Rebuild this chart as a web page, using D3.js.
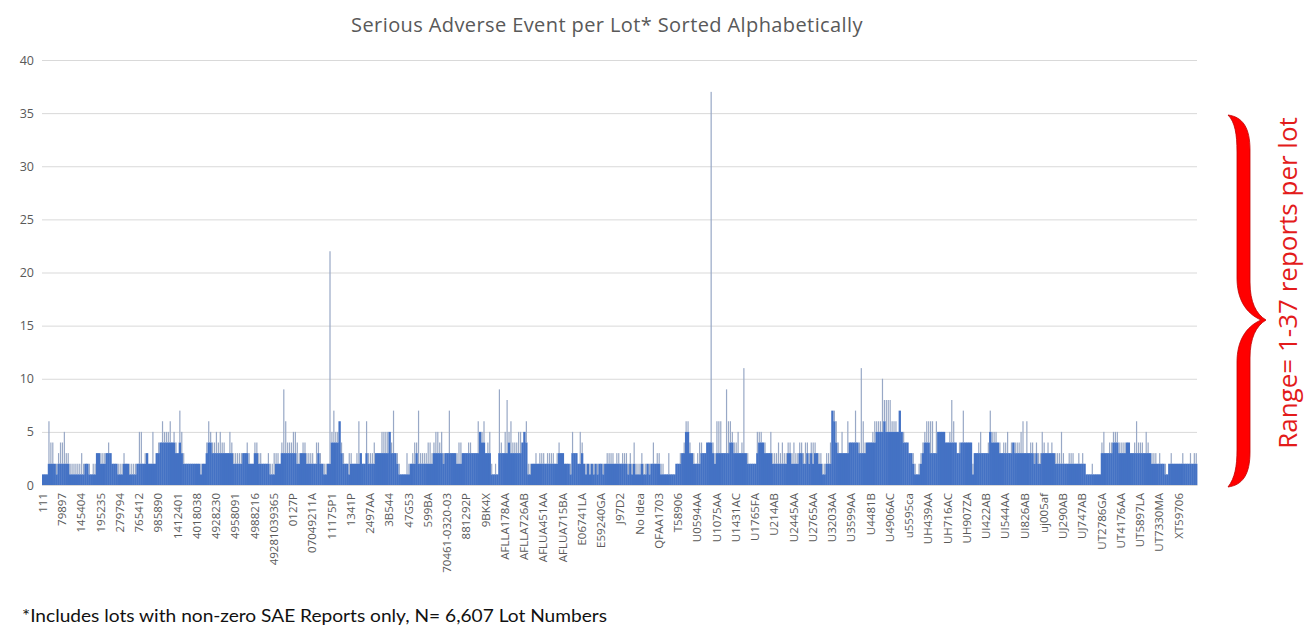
<!DOCTYPE html>
<html>
<head>
<meta charset="utf-8">
<script src="https://cdn.jsdelivr.net/npm/d3@7"></script>
<style>
  body { margin: 0; background: #fff; }
  svg { display: block; }
</style>
</head>
<body>
<div id="chart"></div>
<script>
// one label every 110 lots (6,607 lots in all)
const lotLabels = ["111","79897","145404","195235","279794","765412","985890","1412401","4018038","4928230",
  "4958091","4988216","49281039365","0127P","07049211A","11175P1","1341P","2497AA","3B544","47G53",
  "599BA","70461-0320-03","881292P","9BK4X","AFLLA178AA","AFLLA726AB","AFLUA451AA","AFLUA715BA","E06741LA","E59240GA",
  "J97D2","No Idea","QFAA1703","T58906","U0594AA","U1075AA","U1431AC","U1765FA","U214AB","U2445AA",
  "U2765AA","U3203AA","U3599AA","U4481B","U4906AC","u5595ca","UH439AA","UH716AC","UH907ZA","UI422AB",
  "UI544AA","UI826AB","uj005af","UJ290AB","UJ747AB","UT2786GA","UT4176AA","UT5897LA","UT7330MA","XT59706"];

const yTicks = [0, 5, 10, 15, 20, 25, 30, 35, 40];

// reports per lot in groups of ~11 lots (10 groups per labelled step):
// typical level of the group
const baseLevels = [
  [1,1,1,2,2,2,2,1,2,2],[2,2,2,2,1,1,1,1,1,1],[1,1,2,2,1,1,1,1,3,3],[2,2,2,3,3,3,2,2,2,1],[1,1,2,2,2,1,1,1,1,2],
  [2,2,2,2,3,2,2,2,2,3],[3,4,4,4,4,4,4,4,4,3],[3,4,3,2,2,2,2,2,2,2],[2,2,1,2,2,3,4,4,3,3],[3,3,3,3,3,3,3,3,3,2],
  [2,2,2,2,3,3,3,2,2,2],[3,3,2,2,2,2,2,2,1,1],[1,2,2,2,3,3,3,3,3,3],[3,3,2,2,3,3,3,2,2,2],[2,2,2,3,2,2,1,1,2,2],
  [4,4,4,4,6,3,2,2,2,1],[2,2,2,2,2,3,2,2,3,2],[2,2,2,3,3,3,3,3,3,3],[5,3,3,3,2,1,1,1,1,1],[1,2,2,2,3,2,2,2,2,2],
  [2,2,2,3,3,3,3,3,2,3],[3,3,3,3,3,2,2,2,3,3],[3,3,3,3,3,3,3,5,4,4],[3,3,3,1,1,1,1,3,3,3],[3,3,4,3,3,3,3,3,3,4],
  [5,4,1,1,2,2,2,2,2,2],[2,2,2,2,2,2,2,2,3,3],[3,2,2,2,1,3,3,3,2,2],[3,2,1,2,1,2,1,2,1,2],[2,1,2,2,2,2,2,2,2,2],
  [2,2,2,2,1,2,1,2,1,1],[1,2,1,1,2,1,2,2,2,2],[2,1,1,1,1,1,1,1,1,2],[2,2,3,3,5,5,3,3,2,2],[2,2,3,3,3,4,4,4,3,2],
  [3,3,3,3,3,3,3,4,4,3],[3,3,3,3,3,3,2,2,2,2],[2,3,4,4,4,3,3,3,3,2],[2,2,2,2,2,2,2,3,3,2],[2,2,2,3,3,2,2,3,2,3],
  [2,3,3,2,2,1,1,2,2,2],[7,6,4,3,3,3,3,3,3,4],[4,4,4,4,3,3,3,3,4,4],[4,4,4,5,5,5,5,6,5,5],[5,5,5,5,5,7,5,4,4,4],
  [3,3,2,1,1,1,2,3,4,4],[4,3,3,3,3,5,5,5,5,4],[4,4,4,4,4,3,3,4,4,4],[4,4,4,1,3,3,3,3,3,3],[3,3,5,4,4,4,4,3,3,3],
  [3,3,3,3,4,3,3,3,3,3],[3,3,3,3,3,2,3,2,2,3],[3,3,3,3,3,3,2,2,2,2],[2,2,2,2,2,2,2,2,2,2],[2,2,1,1,1,1,1,1,1,1],
  [3,3,3,3,3,3,4,4,4,3],[3,3,3,4,4,3,3,3,3,3],[3,3,3,3,3,3,2,2,2,2],[2,2,2,1,1,2,2,2,2,2],[2,2,2,2,2,2,2,2,2,2]
];
// highest lot in the group
const peakLevels = [
  [1,1,1,6,4,4,2,2,3,4],[4,5,3,3,2,2,2,2,2,2],[3,2,2,2,2,1,2,2,3,3],[3,3,3,3,4,3,2,2,2,2],[2,2,3,2,2,2,2,2,2,2],
  [5,5,2,3,3,2,2,5,2,3],[4,4,6,5,5,5,6,4,5,4],[3,7,5,3,2,2,2,2,2,2],[2,2,2,2,2,4,6,5,4,4],[5,4,5,4,4,3,3,5,4,3],
  [3,3,3,3,3,3,4,3,2,2],[4,4,3,3,2,2,2,3,2,2],[3,3,3,2,4,9,6,4,4,4],[5,5,4,3,3,4,4,3,3,3],[3,2,4,4,3,2,2,2,2,22],
  [5,7,5,5,6,4,3,2,2,3],[3,2,2,3,6,3,2,2,6,3],[3,3,4,3,3,3,5,5,5,5],[5,4,7,3,3,2,1,1,1,3],[2,2,3,4,4,7,3,3,3,3],
  [4,4,3,4,5,5,4,5,3,3],[3,7,3,3,3,3,4,4,3,3],[3,4,4,3,3,3,6,5,5,6],[3,4,5,2,1,2,1,9,4,3],[5,8,5,6,4,4,4,5,5,4],
  [5,6,2,2,2,2,3,2,3,3],[3,2,3,3,3,3,2,3,4,3],[3,2,2,2,2,5,3,3,2,5],[4,2,2,2,2,2,2,2,2,2],[2,2,2,3,3,3,3,2,3,3],
  [2,3,3,3,2,3,2,4,2,2],[2,3,2,2,2,2,2,4,2,3],[3,2,2,1,1,3,1,1,1,2],[2,3,3,4,6,6,4,3,3,2],[3,4,4,3,3,4,4,37,4,3],
  [6,6,6,3,3,9,6,6,5,4],[4,5,3,4,11,3,3,2,2,2],[2,5,5,5,4,4,3,3,5,3],[3,3,4,3,4,3,3,4,4,3],[4,3,3,4,4,3,4,4,3,4],
  [4,4,3,3,3,2,2,3,3,4],[7,7,6,4,3,5,3,3,6,4],[4,4,7,4,4,11,6,4,4,4],[4,5,6,6,6,6,10,8,8,8],[8,6,6,6,5,7,5,5,4,4],
  [3,3,3,2,1,2,3,4,5,6],[6,6,6,3,6,5,5,5,5,4],[4,5,8,6,4,3,4,4,7,4],[4,4,4,2,3,3,4,5,3,3],[3,4,7,5,5,5,4,4,3,4],
  [4,5,3,4,4,4,4,4,5,6],[3,6,3,4,4,3,4,3,3,5],[4,3,4,3,4,3,3,3,3,5],[3,2,2,3,3,3,2,2,3,2],[3,2,1,1,1,2,1,1,1,1],
  [4,5,3,3,4,4,5,5,5,4],[4,4,4,4,4,3,3,4,6,4],[4,4,3,5,4,3,3,3,3,2],[3,2,2,2,1,2,3,2,2,2],[2,2,3,2,2,2,3,2,3,3]
];

const width = 1307, height = 627;
const m = { left: 42, right: 1197, top: 60, bottom: 485 };

const cols = [];
baseLevels.forEach((grp, g) => grp.forEach((b, k) => {
  cols.push({ i: g * 10 + k, base: b, peak: peakLevels[g][k], label: k === 0 ? lotLabels[g] : null });
}));

const svg = d3.select("#chart").append("svg").attr("width", width).attr("height", height);

const x = d3.scaleBand().domain(cols.map(d => d.i)).range([m.left, m.right]).padding(0);
const y = d3.scaleLinear().domain([0, 40]).range([m.bottom, m.top]);

// gridlines + y labels
const yAxis = svg.append("g").attr("transform", `translate(${m.left},0)`)
  .call(d3.axisLeft(y).tickValues(yTicks).tickSize(-(m.right - m.left)).tickPadding(8));
yAxis.select(".domain").remove();
yAxis.selectAll(".tick line").attr("stroke", "#d9d9d9");
yAxis.selectAll(".tick text").attr("fill", "#595959").style("font", "12.5px 'Open Sans', sans-serif");

const bw = x.bandwidth();

// thin spikes: the odd lot above its neighbours
svg.append("g").selectAll("rect").data(cols.filter(d => d.peak > d.base)).join("rect")
  .attr("x", d => x(d.i) + bw * 0.3)
  .attr("width", 1.2)
  .attr("y", d => y(d.peak))
  .attr("height", d => y(d.base) - y(d.peak))
  .attr("fill", "#98a8c6");

// solid mass of bars
svg.append("g").selectAll("rect").data(cols).join("rect")
  .attr("x", d => x(d.i))
  .attr("width", bw + 0.4)
  .attr("y", d => y(d.base))
  .attr("height", d => y(0) - y(d.base))
  .attr("fill", "#4472c4");

// category labels
const xAxis = svg.append("g").attr("transform", `translate(0,${m.bottom})`)
  .call(d3.axisBottom(x).tickValues(cols.filter(d => d.label).map(d => d.i))
    .tickFormat(i => cols[i].label).tickSize(0).tickPadding(0));
xAxis.select(".domain").attr("stroke", "#d9d9d9");
xAxis.selectAll(".tick text")
  .attr("fill", "#595959")
  .style("font", "11.5px 'Open Sans', sans-serif")
  .attr("text-anchor", "end")
  .attr("dy", "0.35em")
  .attr("transform", "translate(0,8) rotate(-90)");

// title
svg.append("text")
  .attr("x", 607).attr("y", 32)
  .attr("text-anchor", "middle")
  .attr("fill", "#595959")
  .style("font", "20px 'Open Sans', sans-serif")
  .style("letter-spacing", "0.4px")
  .text("Serious Adverse Event per Lot* Sorted Alphabetically");

// footnote
svg.append("text")
  .attr("x", 22).attr("y", 622)
  .attr("fill", "#111")
  .attr("textLength", 585)
  .attr("lengthAdjust", "spacingAndGlyphs")
  .style("font", "18px Lato, sans-serif")
  .text("*Includes lots with non-zero SAE Reports only, N= 6,607  Lot Numbers");

// red brace + range note
svg.append("path")
  .attr("d", "M1228,115 C1243,117 1250,128 1250,150 L1250,282 C1250,302 1256,314 1266,320 " +
             "C1256,326 1250,338 1250,358 L1250,452 C1250,474 1243,485 1228,487 " +
             "C1235,478 1237,466 1237,450 L1237,362 C1237,342 1245,327 1261,320 " +
             "C1245,313 1237,298 1237,278 L1237,152 C1237,134 1235,122 1228,115 Z")
  .attr("fill", "#ff0000")
  .attr("stroke", "#c00000")
  .attr("stroke-width", 0.8);

svg.append("text")
  .attr("transform", "translate(1297,283) rotate(-90)")
  .attr("text-anchor", "middle")
  .attr("fill", "#e31b1b")
  .style("font", "26px 'Open Sans', sans-serif")
  .text("Range= 1-37 reports per lot");
</script>
</body>
</html>
